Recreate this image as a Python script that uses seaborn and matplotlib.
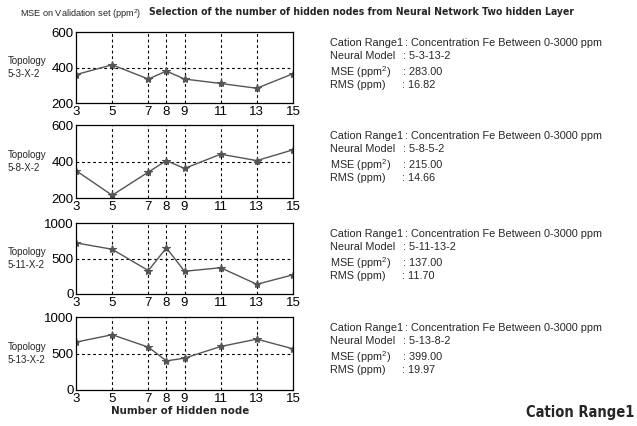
import matplotlib
matplotlib.use("Agg")
import matplotlib.pyplot as plt
import seaborn as sns
import pandas as pd

sns.set_theme(style="white")
plt.rcParams['font.family'] = ['Liberation Sans', 'DejaVu Sans']
plt.rcParams['mathtext.fontset'] = 'custom'
plt.rcParams['mathtext.rm'] = 'Liberation Sans'

hidden_nodes = [3, 5, 7, 8, 9, 11, 13, 15]

mse_5_3 = [360, 415, 335, 380, 335, 310, 283, 365]
mse_5_8 = [350, 215, 342, 405, 362, 440, 405, 464]
mse_5_11 = [720, 630, 330, 650, 320, 370, 137, 270]
mse_5_13 = [656, 757, 587, 399, 436, 596, 697, 564]

topologies = ["Topology\n5-3-X-2", "Topology\n5-8-X-2", "Topology\n5-11-X-2", "Topology\n5-13-X-2"]
series = [mse_5_3, mse_5_8, mse_5_11, mse_5_13]
y_ticks = [[200, 400, 600], [200, 400, 600], [0, 500, 1000], [0, 500, 1000]]

neural_models = ["5-3-13-2", "5-8-5-2", "5-11-13-2", "5-13-8-2"]
mse_best = ["283.00", "215.00", "137.00", "399.00"]
rms_best = ["16.82", "14.66", "11.70", "19.97"]

W, H = 637, 426
fig = plt.figure(figsize=(W / 100, H / 100), dpi=100)

# panel boxes in pixels: (top, bottom)
rows = [(32, 103), (125, 198), (223, 294), (317, 390)]
left_px, right_px = 76, 293

bold_narrow = dict(fontweight="bold", family="DejaVu Sans", fontstretch="condensed")

for i, (top, bot) in enumerate(rows):
    ax = fig.add_axes([left_px / W, 1 - bot / H, (right_px - left_px) / W, (bot - top) / H])
    df = pd.DataFrame({"nodes": hidden_nodes, "mse": series[i]})
    sns.lineplot(data=df, x="nodes", y="mse", ax=ax, color="#555555", linewidth=1.0,
                 marker="*", markersize=6, markeredgecolor="#555555", markerfacecolor="#555555")
    ax.set_xlim(3, 15)
    ax.set_ylim(y_ticks[i][0], y_ticks[i][-1])
    ax.set_xticks(hidden_nodes)
    ax.set_yticks(y_ticks[i])
    ax.set_xlabel("")
    ax.set_ylabel("")
    ax.tick_params(axis="both", labelsize=9.5, length=2, direction="in", colors="black")
    ax.tick_params(axis="x", pad=2.5)
    ax.tick_params(axis="y", pad=1.5)
    for x in hidden_nodes[1:-1]:
        ax.axvline(x, color="black", linestyle=(0, (2.5, 2.5)), linewidth=0.8, zorder=0)
    ax.axhline(y_ticks[i][1], color="black", linestyle=(0, (2.5, 2.5)), linewidth=0.8, zorder=0)
    for s in ax.spines.values():
        s.set_color("black")
        s.set_linewidth(0.9)
    fig.text(8 / W, 1 - (top + bot) / 2 / H, topologies[i], fontsize=7, ha="left", va="center",
             linespacing=1.4)

    y0 = top + 11
    lines = [
        ("Cation Range1", ": Concentration Fe Between 0-3000 ppm", 0, 405),
        ("Neural Model", ": " + neural_models[i], 13, 403),
        ("MSE (ppm$^2$)", ": " + mse_best[i], 29, 403),
        ("RMS (ppm)", ": " + rms_best[i], 42, 402),
    ]
    for label, value, dy, xv in lines:
        fig.text(330 / W, 1 - (y0 + dy) / H, label, fontsize=7.8, ha="left", va="center")
        fig.text(xv / W, 1 - (y0 + dy) / H, value, fontsize=7.8, ha="left", va="center")

fig.text(20 / W, 1 - 14 / H, "MSE on Validation set (ppm$^2$)", fontsize=6.6, ha="left", va="center")
fig.text(362 / W, 1 - 12 / H, "Selection of the number of hidden nodes from Neural Network Two hidden Layer",
         fontsize=7.5, ha="center", va="center", **bold_narrow)
fig.text(180 / W, 1 - 411 / H, "Number of Hidden node", fontsize=8.2,
         ha="center", va="center", **bold_narrow)
fig.text(634 / W, 1 - 413 / H, "Cation Range1", fontsize=10.5,
         ha="right", va="center", **bold_narrow)

fig.savefig("out.png", dpi=100)
